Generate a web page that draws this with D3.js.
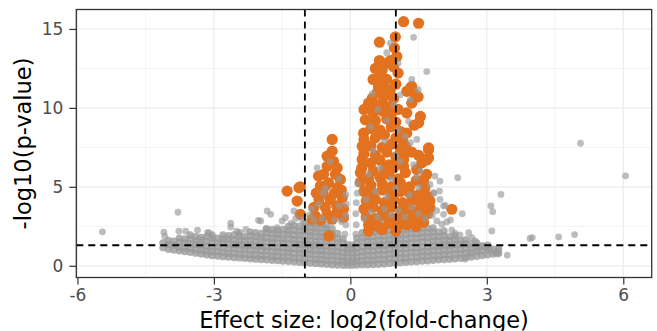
<!DOCTYPE html>
<html>
<head>
<meta charset="utf-8">
<script src="https://cdn.jsdelivr.net/npm/d3@7"></script>
<style>
  html, body { margin: 0; padding: 0; background: #fff; }
  svg { display: block; font-family: "DejaVu Sans", sans-serif; }
</style>
</head>
<body>
<svg id="chart" width="657" height="331"></svg>
<script>
// tick values
const xTicks = [-6, -3, 0, 3, 6];
const yTicks = [0, 5, 10, 15];
const xMinor = [-4.5, -1.5, 1.5, 4.5];
const yMinor = [2.5, 7.5, 12.5];

// thresholds: |log2FC| = 1, p = 0.05
const fcCut = [-1, 1];
const pCut = [1.3];

// dense non-significant cloud, one column per entry: [x, y, y, ...]
const grayBlob = [
  [-4.12, 1.15, 1.45],
  [-4.0, 1.05, 1.35, 1.6],
  [-3.88, 1.0, 1.3, 1.55],
  [-3.76, 0.95, 1.2, 1.5, 1.75],
  [-3.64, 0.9, 1.15, 1.45, 1.7],
  [-3.52, 0.85, 1.1, 1.4, 1.7, 1.95],
  [-3.4, 0.8, 1.05, 1.35, 1.6, 1.85],
  [-3.28, 0.75, 1.0, 1.3, 1.6, 1.8],
  [-3.16, 0.7, 0.95, 1.25, 1.55, 1.85],
  [-3.04, 0.65, 0.9, 1.2, 1.5, 1.75, 1.95],
  [-2.92, 0.62, 0.9, 1.2, 1.45, 1.75],
  [-2.8, 0.58, 0.85, 1.15, 1.45, 1.7, 1.95],
  [-2.68, 0.55, 0.8, 1.1, 1.4, 1.7, 1.9],
  [-2.56, 0.52, 0.8, 1.1, 1.35, 1.65, 1.95],
  [-2.44, 0.5, 0.75, 1.05, 1.35, 1.6, 1.9, 2.1],
  [-2.32, 0.47, 0.75, 1.05, 1.3, 1.6, 1.85],
  [-2.2, 0.45, 0.7, 1.0, 1.3, 1.6, 1.9, 2.15],
  [-2.08, 0.42, 0.7, 1.0, 1.25, 1.55, 1.85, 2.1],
  [-1.96, 0.4, 0.65, 0.95, 1.25, 1.55, 1.8, 2.05],
  [-1.84, 0.38, 0.65, 0.95, 1.2, 1.5, 1.8, 2.1, 2.35],
  [-1.72, 0.35, 0.6, 0.9, 1.2, 1.5, 1.75, 2.05, 2.3],
  [-1.6, 0.33, 0.6, 0.9, 1.15, 1.45, 1.75, 2.0, 2.25],
  [-1.48, 0.3, 0.55, 0.85, 1.15, 1.45, 1.7, 2.0, 2.3],
  [-1.36, 0.28, 0.55, 0.85, 1.1, 1.4, 1.7, 2.0, 2.25, 2.5],
  [-1.24, 0.25, 0.5, 0.8, 1.1, 1.4, 1.65, 1.95, 2.25, 2.55],
  [-1.12, 0.22, 0.5, 0.8, 1.05, 1.35, 1.65, 1.95, 2.2, 2.5],
  [-1.0, 0.2, 0.45, 0.75, 1.05, 1.35, 1.6, 1.9, 2.2, 2.45, 2.7],
  [-0.88, 0.17, 0.45, 0.75, 1.0, 1.3, 1.6, 1.9, 2.15, 2.45, 2.7],
  [-0.76, 0.15, 0.4, 0.7, 1.0, 1.3, 1.55, 1.85, 2.15, 2.4, 2.65],
  [-0.64, 0.12, 0.4, 0.7, 0.95, 1.25, 1.55, 1.85, 2.1, 2.4, 2.65],
  [-0.52, 0.1, 0.35, 0.65, 0.95, 1.25, 1.5, 1.8, 2.1, 2.35, 2.6],
  [-0.4, 0.07, 0.35, 0.65, 0.9, 1.2, 1.5, 1.8, 2.05, 2.35],
  [-0.28, 0.05, 0.3, 0.6, 0.9, 1.2, 1.45, 1.75, 2.05],
  [-0.16, 0.03, 0.3, 0.55, 0.85, 1.15, 1.45, 1.7],
  [-0.06, 0.04, 0.25, 0.55, 0.85, 1.1, 1.35],
  [0.04, 0.04, 0.25, 0.5, 0.8, 1.1, 1.3],
  [0.14, 0.05, 0.3, 0.55, 0.85, 1.15, 1.45, 1.75],
  [0.26, 0.06, 0.3, 0.6, 0.9, 1.2, 1.5, 1.8, 2.1],
  [0.38, 0.07, 0.35, 0.65, 0.95, 1.25, 1.55, 1.85, 2.15, 2.45],
  [0.5, 0.08, 0.35, 0.65, 0.95, 1.25, 1.55, 1.85, 2.15, 2.45, 2.7],
  [0.62, 0.1, 0.4, 0.7, 1.0, 1.3, 1.6, 1.9, 2.2, 2.5, 2.75],
  [0.74, 0.12, 0.4, 0.7, 1.0, 1.3, 1.6, 1.9, 2.2, 2.5, 2.8],
  [0.86, 0.15, 0.45, 0.75, 1.05, 1.35, 1.65, 1.95, 2.25, 2.55, 2.8],
  [0.98, 0.17, 0.45, 0.75, 1.05, 1.35, 1.65, 1.95, 2.25, 2.55, 2.85],
  [1.1, 0.2, 0.5, 0.8, 1.1, 1.4, 1.7, 2.0, 2.3, 2.6, 2.85],
  [1.22, 0.22, 0.5, 0.8, 1.1, 1.4, 1.7, 2.0, 2.3, 2.6],
  [1.34, 0.25, 0.55, 0.85, 1.15, 1.45, 1.75, 2.05, 2.35, 2.6],
  [1.46, 0.27, 0.55, 0.85, 1.15, 1.45, 1.75, 2.05, 2.35, 2.6],
  [1.58, 0.3, 0.6, 0.9, 1.2, 1.5, 1.8, 2.1, 2.4],
  [1.7, 0.32, 0.6, 0.9, 1.2, 1.5, 1.8, 2.1, 2.4],
  [1.82, 0.35, 0.65, 0.95, 1.25, 1.55, 1.85, 2.15, 2.4],
  [1.94, 0.38, 0.65, 0.95, 1.25, 1.55, 1.85, 2.15],
  [2.06, 0.4, 0.7, 1.0, 1.3, 1.6, 1.9, 2.2],
  [2.18, 0.42, 0.7, 1.0, 1.3, 1.6, 1.85],
  [2.3, 0.45, 0.75, 1.05, 1.35, 1.65, 1.9],
  [2.42, 0.48, 0.75, 1.05, 1.35, 1.6],
  [2.54, 0.52, 0.8, 1.1, 1.4, 1.65],
  [2.66, 0.55, 0.85, 1.15, 1.4],
  [2.78, 0.6, 0.9, 1.2, 1.45],
  [2.9, 0.65, 0.95, 1.25],
  [3.02, 0.7, 1.0, 1.3],
  [3.14, 0.75, 1.05],
  [3.26, 0.8, 1.1]
];

// scattered non-significant genes [log2FC, -log10 p]
const grayScatter = [
  [-5.45, 2.15], [-4.1, 2.13], [-4.08, 1.87], [-3.79, 3.39], [-3.77, 2.19],
  [-3.62, 2.19], [-3.36, 2.25], [-3.11, 2.1], [-2.63, 2.7], [-2.02, 2.88],
  [-3.14, 2.1], [-2.63, 2.45], [-1.83, 3.47], [-1.75, 3.26], [-1.97, 2.84],
  [-1.5, 2.84], [-1.43, 3.05], [-1.24, 3.47], [-1.61, 2.42], [-1.86, 2.32],
  [-2.3, 2.3], [-2.5, 2.2], [-1.3, 2.7], [-1.05, 2.9], [-1.2, 3.0],
  [-0.85, 3.6], [-0.9, 3.2], [-0.8, 2.9], [-0.62, 3.0], [-0.7, 3.9],
  [-0.73, 6.2], [-0.6, 4.6], [-0.25, 3.8], [-0.2, 2.8], [-0.35, 2.9],
  [-0.55, 4.9], [-0.25, 5.5], [-0.45, 6.6],
  [-0.12, 2.0], [-0.1, 2.6], [-0.1, 3.2], [-0.09, 3.9], [-0.1, 4.5],
  [0.12, 2.0], [0.13, 2.6], [0.12, 3.3], [0.13, 4.0], [0.15, 4.6], [0.16, 5.2],
  [0.3, 3.0], [0.45, 3.4], [0.6, 3.1], [0.75, 3.6], [0.9, 3.2],
  [1.05, 3.5], [1.2, 3.1], [1.35, 3.7], [1.5, 3.3], [1.65, 3.0],
  [1.8, 3.2], [0.35, 4.2], [0.55, 4.7], [0.8, 4.4], [1.0, 4.9],
  [1.3, 4.5], [1.45, 5.6], [0.4, 5.8], [0.65, 6.2], [0.9, 5.5],
  [1.1, 6.6], [0.5, 7.3], [0.75, 7.9], [1.0, 7.0], [1.2, 8.2],
  [0.45, 8.8], [0.8, 9.2], [1.05, 8.6], [0.6, 9.9], [0.95, 10.2],
  [1.39, 14.47], [1.68, 12.3], [0.8, 13.5], [0.88, 14.1], [1.05, 12.85],
  [1.35, 11.8], [1.1, 10.83], [1.32, 10.5], [1.49, 11.15], [0.48, 10.9],
  [1.28, 9.15], [1.46, 8.0], [1.32, 7.8], [1.39, 6.4], [1.54, 6.0],
  [1.86, 5.68], [1.97, 5.36], [1.75, 5.15], [1.5, 4.97],
  [5.06, 7.76], [6.05, 5.7], [3.31, 4.52], [3.09, 3.79], [3.13, 3.43],
  [3.11, 2.21], [3.95, 1.73], [4.0, 1.79], [4.58, 1.83], [4.93, 1.98],
  [3.45, 0.67], [3.24, 0.74], [3.25, 0.95], [2.36, 5.58], [1.96, 4.73],
  [1.84, 4.59], [2.08, 3.83], [2.46, 3.3], [2.05, 3.26], [2.12, 2.78],
  [2.01, 2.63], [1.9, 2.84], [2.23, 2.25], [2.3, 2.06], [2.41, 1.96],
  [2.67, 1.79], [2.74, 1.58], [2.81, 1.05], [2.92, 1.26], [3.0, 1.16],
  [3.07, 1.05], [3.18, 0.85], [2.52, 0.42], [2.63, 0.74], [2.05, 3.79],
  [1.83, 4.63], [1.97, 4.2], [2.2, 2.9], [2.6, 2.1], [1.9, 3.5]
];

// significant genes [log2FC, -log10 p]
const orange = [
  [1.17, 15.46], [1.5, 15.36], [0.64, 14.16], [0.99, 14.5], [0.97, 13.8],
  [1.02, 13.25], [0.64, 13.0], [0.55, 12.5], [0.77, 12.8], [0.88, 13.0],
  [1.05, 12.2], [0.66, 12.0], [0.8, 11.8], [0.62, 11.36], [0.88, 11.15],
  [0.48, 10.6], [0.73, 10.7], [1.32, 11.25], [1.39, 10.95], [1.24, 11.05],
  [1.46, 10.7], [0.4, 10.3], [0.88, 10.1], [1.35, 11.36], [1.49, 10.7],
  [0.5, 11.8], [0.7, 12.4], [0.95, 12.6], [0.6, 11.0], [1.0, 11.5],
  [0.75, 11.2], [0.55, 10.1], [0.7, 10.3], [0.95, 10.6],
  [0.3, 9.9], [0.5, 9.7], [0.7, 9.8], [0.9, 9.6], [1.05, 9.9],
  [0.33, 9.25], [0.55, 9.2], [0.8, 9.3], [1.0, 9.1],
  [0.29, 8.4], [0.45, 8.7], [0.65, 8.6], [0.9, 8.8], [1.1, 8.5],
  [0.3, 8.0], [0.55, 8.1], [0.75, 8.3], [1.0, 8.1], [1.15, 7.9],
  [0.26, 7.57], [0.45, 7.6], [0.7, 7.5], [0.9, 7.7], [1.1, 7.4],
  [0.3, 7.1], [0.55, 7.0], [0.8, 7.2], [1.0, 6.9], [1.2, 7.1],
  [0.26, 6.73], [0.45, 6.5], [0.65, 6.7], [0.85, 6.4], [1.05, 6.6],
  [0.25, 6.2], [0.5, 6.0], [0.75, 6.1], [0.95, 6.2], [1.17, 6.3],
  [0.22, 5.9], [0.4, 5.5], [0.65, 5.6], [0.85, 5.8], [1.05, 5.5],
  [0.22, 5.3], [0.45, 5.1], [0.7, 5.2], [0.9, 5.0], [1.21, 5.9], [1.1, 5.26],
  [1.24, 9.68], [1.54, 9.46], [1.5, 9.05], [1.35, 10.3], [1.24, 8.4],
  [1.21, 7.57], [1.72, 7.47], [1.72, 6.84], [1.57, 6.52], [1.46, 6.1],
  [1.68, 5.79], [1.61, 5.26], [1.17, 6.73], [1.72, 7.36], [1.68, 6.69],
  [1.61, 5.47], [1.64, 4.95], [1.75, 3.68], [1.61, 4.2], [1.54, 3.37],
  [1.4, 8.9], [1.35, 7.2], [1.5, 7.0], [1.45, 5.4], [1.3, 5.0],
  [0.3, 4.7], [0.5, 4.6], [0.7, 4.8], [0.9, 4.5], [1.1, 4.7], [1.3, 4.6], [1.5, 4.5], [1.7, 4.4],
  [0.35, 4.1], [0.55, 4.2], [0.75, 4.0], [0.95, 4.2], [1.15, 4.0], [1.35, 4.1], [1.55, 3.9], [1.75, 4.1],
  [0.3, 3.6], [0.5, 3.7], [0.7, 3.5], [0.9, 3.7], [1.1, 3.5], [1.3, 3.6], [1.5, 3.5], [1.7, 3.3],
  [0.35, 3.1], [0.55, 3.0], [0.75, 3.2], [0.95, 3.0], [1.15, 3.1], [1.35, 3.0], [1.55, 2.95],
  [0.4, 2.6], [0.6, 2.5], [0.85, 2.7], [1.05, 2.55], [1.25, 2.6], [1.45, 2.5], [1.61, 2.75],
  [0.4, 2.2], [0.7, 2.3], [1.0, 2.2], [2.23, 3.58],
  [-0.4, 8.0], [-0.4, 7.26], [-0.37, 6.62], [-0.51, 6.3], [-0.29, 6.2],
  [-0.59, 5.79], [-0.33, 5.79], [-0.7, 5.68], [-0.22, 5.47], [-0.48, 5.26],
  [-0.66, 5.05], [-1.1, 5.0], [-0.51, 6.94], [-0.55, 5.05], [-0.29, 4.95],
  [-0.69, 4.2], [-0.44, 4.2], [-0.18, 4.31], [-0.77, 3.15], [-0.51, 3.26],
  [-0.29, 3.37], [-0.15, 3.05], [-0.47, 1.89], [-0.6, 4.6], [-0.35, 4.6],
  [-0.8, 3.7], [-0.55, 3.7], [-0.3, 3.8], [-0.15, 3.6], [-0.65, 2.9],
  [-0.4, 2.95], [-0.84, 2.95], [-0.2, 4.8], [-0.75, 4.6],
  [-1.39, 4.73], [-1.13, 4.95], [-1.17, 4.1], [-1.1, 3.26]
];

const svg = d3.select("#chart");
const W = 657, H = 331;
const margin = { top: 9.5, right: 5.3, bottom: 53.5, left: 76.3 };
const width = W - margin.left - margin.right;
const height = H - margin.top - margin.bottom;

const blobPts = [];
grayBlob.forEach((col) => {
  col.slice(1).forEach((v) => blobPts.push([col[0], v]));
});
const allPts = blobPts.concat(grayScatter, orange);

// ggplot-style 5% expansion
function expand(ext) {
  const pad = (ext[1] - ext[0]) * 0.05;
  return [ext[0] - pad, ext[1] + pad];
}

const x = d3.scaleLinear()
  .domain(expand(d3.extent(allPts, (d) => d[0])))
  .range([0, width]);
const y = d3.scaleLinear()
  .domain(expand(d3.extent(allPts, (d) => d[1])))
  .range([height, 0]);

const g = svg.append("g")
  .attr("transform", `translate(${margin.left},${margin.top})`);

// grid
g.selectAll(".minor-x").data(xMinor).join("line")
  .attr("x1", (d) => x(d)).attr("x2", (d) => x(d))
  .attr("y1", 0).attr("y2", height)
  .attr("stroke", "#ebebeb").attr("stroke-width", 0.6);
g.selectAll(".minor-y").data(yMinor).join("line")
  .attr("y1", (d) => y(d)).attr("y2", (d) => y(d))
  .attr("x1", 0).attr("x2", width)
  .attr("stroke", "#ebebeb").attr("stroke-width", 0.6);
g.selectAll(".major-x").data(xTicks).join("line")
  .attr("x1", (d) => x(d)).attr("x2", (d) => x(d))
  .attr("y1", 0).attr("y2", height)
  .attr("stroke", "#ebebeb").attr("stroke-width", 1.2);
g.selectAll(".major-y").data(yTicks).join("line")
  .attr("y1", (d) => y(d)).attr("y2", (d) => y(d))
  .attr("x1", 0).attr("x2", width)
  .attr("stroke", "#ebebeb").attr("stroke-width", 1.2);

// points
g.append("clipPath").attr("id", "clip")
  .append("rect").attr("width", width).attr("height", height);
const pts = g.append("g").attr("clip-path", "url(#clip)");

pts.selectAll(".blob").data(blobPts).join("circle")
  .attr("cx", (d) => x(d[0])).attr("cy", (d) => y(d[1]))
  .attr("r", 3.7)
  .attr("fill", "#999999").attr("fill-opacity", 0.78);

pts.selectAll(".sig").data(orange).join("circle")
  .attr("cx", (d) => x(d[0])).attr("cy", (d) => y(d[1]))
  .attr("r", 5.6)
  .attr("fill", "#e2721f");

pts.selectAll(".scatter").data(grayScatter).join("circle")
  .attr("cx", (d) => x(d[0])).attr("cy", (d) => y(d[1]))
  .attr("r", 3.4)
  .attr("fill", "#999999").attr("fill-opacity", 0.65);

// threshold lines
g.selectAll(".vcut").data(fcCut).join("line")
  .attr("x1", (d) => x(d)).attr("x2", (d) => x(d))
  .attr("y1", 0).attr("y2", height)
  .attr("stroke", "#000").attr("stroke-width", 1.8)
  .attr("stroke-dasharray", "7,5");
g.selectAll(".hcut").data(pCut).join("line")
  .attr("y1", (d) => y(d)).attr("y2", (d) => y(d))
  .attr("x1", 0).attr("x2", width)
  .attr("stroke", "#000").attr("stroke-width", 1.8)
  .attr("stroke-dasharray", "7,5");

// border
g.append("rect")
  .attr("width", width).attr("height", height)
  .attr("fill", "none").attr("stroke", "#333").attr("stroke-width", 1.3);

// axes
const xAxis = g.append("g")
  .attr("transform", `translate(0,${height})`)
  .call(d3.axisBottom(x).tickValues(xTicks).tickSize(7).tickPadding(4)
    .tickFormat((d) => String(d)));
const yAxis = g.append("g")
  .call(d3.axisLeft(y).tickValues(yTicks).tickSize(7).tickPadding(6)
    .tickFormat((d) => String(d)));

[xAxis, yAxis].forEach((ax) => {
  ax.select(".domain").remove();
  ax.selectAll(".tick line").attr("stroke", "#333").attr("stroke-width", 1.2);
  ax.selectAll(".tick text")
    .attr("fill", "#4d4d4d")
    .style("font-size", "17px")
    .style("font-family", "DejaVu Sans");
});

svg.append("text")
  .attr("x", margin.left + width / 2)
  .attr("y", 327.5)
  .attr("text-anchor", "middle")
  .style("font-size", "22.5px")
  .text("Effect size: log2(fold-change)");

svg.append("text")
  .attr("transform", `translate(31,${margin.top + height / 2}) rotate(-90)`)
  .attr("text-anchor", "middle")
  .style("font-size", "22.5px")
  .text("-log10(p-value)");
</script>
</body>
</html>
